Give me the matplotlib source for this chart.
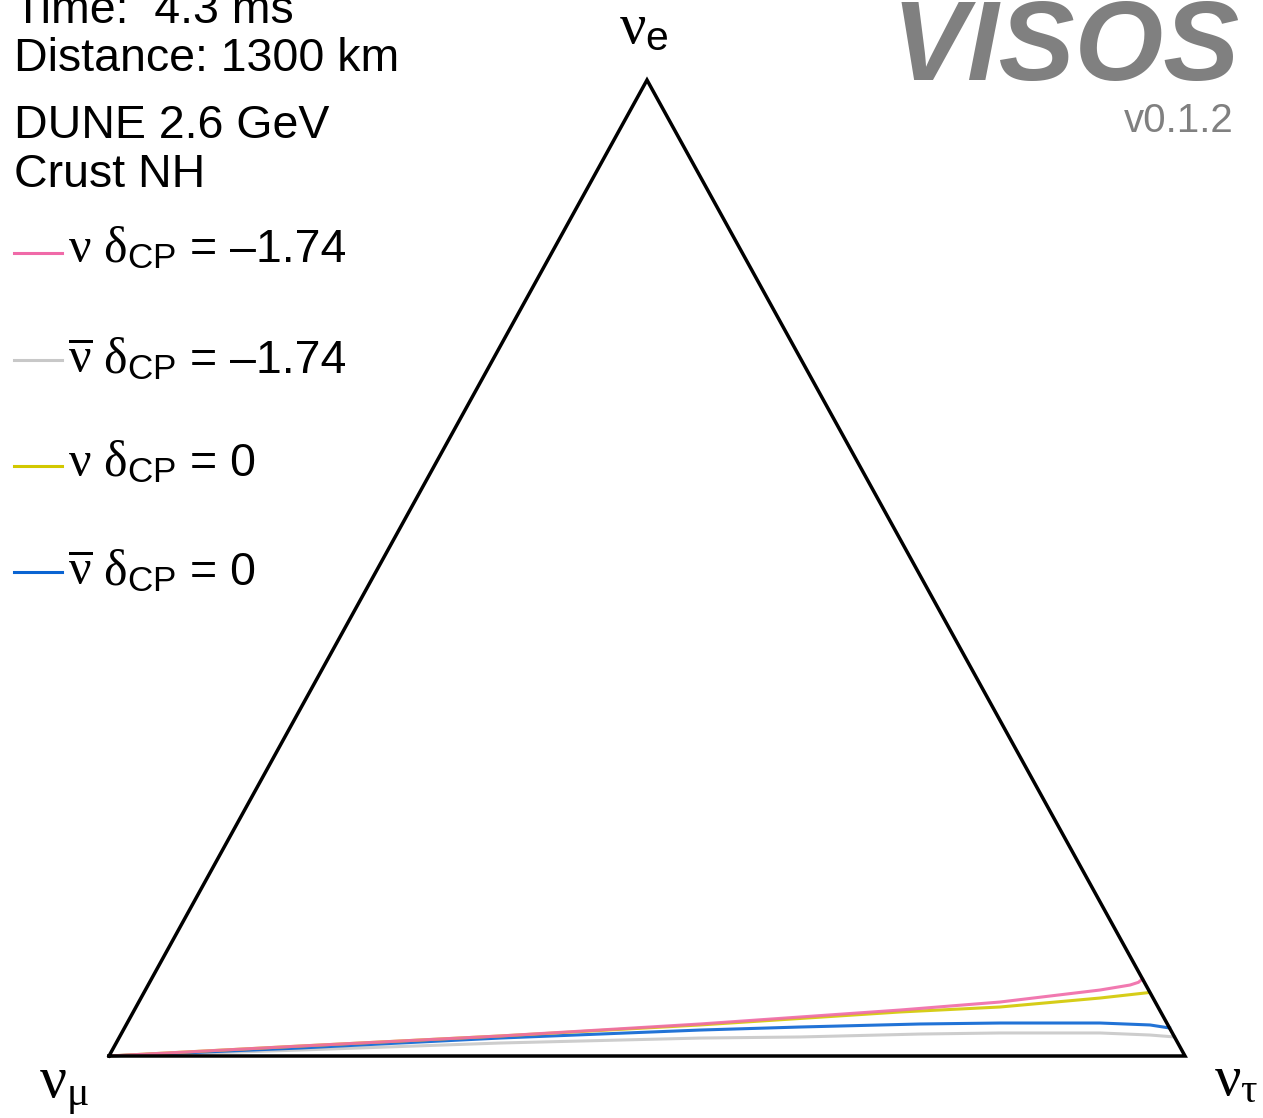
import numpy as np
import matplotlib
matplotlib.use("Agg")
import matplotlib.pyplot as plt
from matplotlib.lines import Line2D

plt.rcParams['font.family'] = ['Liberation Sans', 'DejaVu Sans']
plt.rcParams['mathtext.fontset'] = 'custom'
plt.rcParams['mathtext.it'] = 'Liberation Serif'
plt.rcParams['mathtext.rm'] = 'Liberation Sans'
plt.rcParams['mathtext.sf'] = 'Liberation Sans'

W, H = 1263, 1118

# flavour content along each trajectory: P_e and P_tau (P_mu = 1 - P_e - P_tau)
nu_m174_pe = [0.0, 0.0102, 0.0205, 0.0328, 0.0471, 0.0553, 0.0676, 0.0727, 0.0755, 0.0790]
nu_m174_ptau = [0.0, 0.1724, 0.3531, 0.5329, 0.7116, 0.8004, 0.8872, 0.9125, 0.9190, 0.9210]

nubar_m174_pe = [0.0, 0.0061, 0.0133, 0.0184, 0.0195, 0.0225, 0.0236, 0.0236, 0.0215, 0.0195]
nubar_m174_ptau = [0.0, 0.1744, 0.3567, 0.5401, 0.6325, 0.7424, 0.8163, 0.9092, 0.9567, 0.9805]

nu_0_pe = [0.0, 0.0102, 0.0205, 0.0318, 0.0451, 0.0502, 0.0594, 0.0650]
nu_0_ptau = [0.0, 0.1724, 0.3531, 0.5334, 0.7126, 0.8030, 0.8913, 0.9340]

nubar_0_pe = [0.0, 0.0082, 0.0184, 0.0266, 0.0297, 0.0328, 0.0338, 0.0338, 0.0318, 0.0287]
nubar_0_ptau = [0.0, 0.1734, 0.3542, 0.5360, 0.6273, 0.7373, 0.8112, 0.9041, 0.9516, 0.9713]

particles = [r"$\nu\ \delta_{\mathrm{CP}}$", r"$\overline{\nu}\ \delta_{\mathrm{CP}}$",
             r"$\nu\ \delta_{\mathrm{CP}}$", r"$\overline{\nu}\ \delta_{\mathrm{CP}}$"]
delta_cp = ["–1.74", "–1.74", "0", "0"]
colors = ['#f06aa8', '#c8c8c8', '#d2c800', '#0a64d2']
series = [(nu_m174_pe, nu_m174_ptau), (nubar_m174_pe, nubar_m174_ptau),
          (nu_0_pe, nu_0_ptau), (nubar_0_pe, nubar_0_ptau)]


def to_xy(pe, ptau):
    pe = np.asarray(pe)
    ptau = np.asarray(ptau)
    return ptau + 0.5 * pe, pe


def fx(x):
    return x / W


def fy(y):
    return 1 - y / H


fig = plt.figure(figsize=(W / 100, H / 100), dpi=100)
ax = fig.add_axes([fx(109), fy(1056), 1076 / W, 976 / H])
ax.set_xlim(0, 1)
ax.set_ylim(0, 1)
ax.axis('off')

# triangle frame: mu (left), tau (right), e (top)
tx, ty = to_xy([0, 0, 1, 0], [0, 1, 0, 0])
ax.plot(tx, ty, color='black', lw=2.5, solid_joinstyle='miter', clip_on=False, zorder=5)

# trajectories, drawn grey, blue, yellow, pink
for i in [1, 3, 2, 0]:
    x, y = to_xy(*series[i])
    ax.plot(x, y, color=colors[i], lw=2.2, alpha=0.9, clip_on=False, zorder=3)

# corner labels
fig.text(fx(644), fy(43), r"$\nu_\mathrm{e}$", fontsize=42, ha='center', va='baseline')
fig.text(fx(39), fy(1097), r"$\nu_\mu$", fontsize=43, ha='left', va='baseline')
fig.text(fx(1214), fy(1095), r"$\nu_\tau$", fontsize=42, ha='left', va='baseline')

# info block
info = [("Time:  4.3 ms", 23), ("Distance: 1300 km", 71),
        ("DUNE 2.6 GeV", 138), ("Crust NH", 187)]
for txt, yb in info:
    fig.text(fx(14), fy(yb), txt, fontsize=33.5, ha='left', va='baseline')

# legend
line_y = [253, 360, 466, 572]
base_y = [262, 373, 476, 585]
for p, d, c, ly, by in zip(particles, delta_cp, colors, line_y, base_y):
    fig.add_artist(Line2D([fx(14), fx(62)], [fy(ly), fy(ly)], color=c, lw=2.2,
                          transform=fig.transFigure))
    fig.text(fx(68), fy(by), p, fontsize=36, ha='left', va='baseline')
    fig.text(fx(190), fy(by), "= " + d, fontsize=33.5, ha='left', va='baseline')

# logo
fig.text(fx(1240), fy(80), "VISOS", fontsize=82, fontweight='bold', fontstyle='italic',
         color='#808080', ha='right', va='baseline')
fig.text(fx(1234), fy(132), "v0.1.2", fontsize=29, color='#808080', ha='right', va='baseline')

fig.savefig("out.png", dpi=100)
